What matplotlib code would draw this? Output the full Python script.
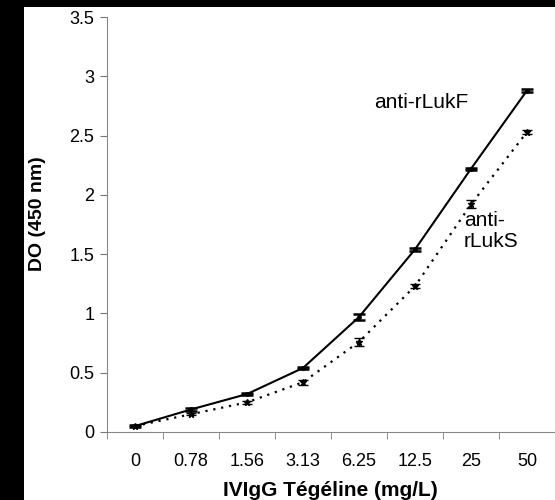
import matplotlib
matplotlib.use("Agg")
import matplotlib.pyplot as plt
import numpy as np
from matplotlib.patches import Rectangle

plt.rcParams['font.family'] = ['Liberation Sans', 'DejaVu Sans']

# Data
conc_labels = ["0", "0.78", "1.56", "3.13", "6.25", "12.5", "25", "50"]
luk_f = [0.05, 0.19, 0.32, 0.54, 0.97, 1.54, 2.22, 2.88]
luk_f_err = [0.005, 0.01, 0.01, 0.01, 0.025, 0.015, 0.01, 0.01]
luk_s = [0.05, 0.15, 0.25, 0.42, 0.76, 1.23, 1.92, 2.53]
luk_s_err = [0.005, 0.01, 0.015, 0.02, 0.035, 0.015, 0.035, 0.02]

x = np.arange(len(conc_labels))

fig = plt.figure(figsize=(5.55, 5.0), dpi=100)
fig.patch.set_facecolor("white")

# black borders of the scan
fig.patches.append(Rectangle((0, 0), 24 / 555, 1, transform=fig.transFigure,
                             facecolor="black", edgecolor="none", zorder=0))
fig.patches.append(Rectangle((0, 493 / 500), 1, 7 / 500, transform=fig.transFigure,
                             facecolor="black", edgecolor="none", zorder=0))

ax = fig.add_axes([107 / 555, 68 / 500, 448 / 555, 415 / 500])

ax.errorbar(x, luk_f, yerr=luk_f_err, color="black", lw=1.5, capsize=4,
            capthick=1.8, elinewidth=1.2, marker="o", ms=2.5, zorder=3)
ax.errorbar(x, luk_s, yerr=luk_s_err, color="black", lw=1.6, ls=(0, (1, 2.6)),
            capsize=3.5, capthick=1.0, elinewidth=1.0, marker="*", ms=4.5, zorder=3)

ax.set_xlim(-0.5, 7.5)
ax.set_ylim(0, 3.5)

ax.set_xticks(x)
ax.set_xticklabels(conc_labels, fontsize=13)
ax.set_xticks(np.arange(-0.5, 7.6, 1), minor=True)
ax.tick_params(axis="x", which="major", length=0, pad=15)
ax.tick_params(axis="x", which="minor", length=5, color="#777777", direction="out")

yt = np.arange(0, 3.51, 0.5)
ax.set_yticks(yt)
ax.set_yticklabels(["0", "0.5", "1", "1.5", "2", "2.5", "3", "3.5"], fontsize=13)
ax.tick_params(axis="y", length=5, color="#777777", pad=4)

for side in ["top", "right"]:
    ax.spines[side].set_visible(False)
ax.spines["left"].set_color("#888888")
ax.spines["bottom"].set_color("#888888")

fig.text(421 / 555, 1 - 102 / 500, "anti-rLukF", fontsize=15, ha="center",
         va="center")
fig.text(464 / 555, 1 - 231 / 500, "anti-\nrLukS", fontsize=15, ha="left",
         va="center", linespacing=1.15)

fig.text(37 / 555, 1 - 214 / 500, "DO (450 nm)", rotation=90, fontsize=14,
         fontweight="bold", ha="center", va="center")
fig.text(330 / 555, 1 - 490 / 500, "IVIgG Tégéline (mg/L)", fontsize=15,
         fontweight="bold", ha="center", va="center")

fig.savefig("out.png", dpi=100)
